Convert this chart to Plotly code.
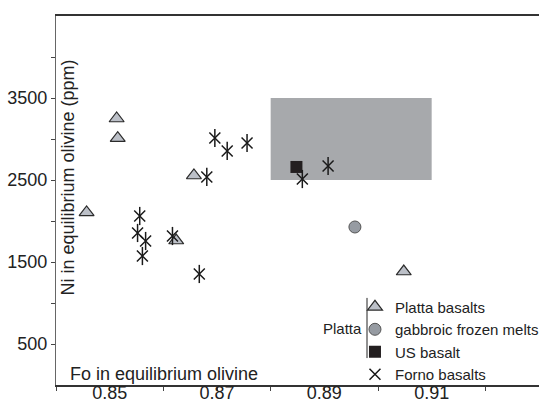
import plotly.graph_objects as go

# Fo / Ni values for each group
platta_fo = [0.8513, 0.8515, 0.8657, 0.8457, 0.8624, 0.9048]
platta_ni = [3250, 3010, 2555, 2104, 1762, 1384]

gabbro_fo = [0.8957]
gabbro_ni = [1927]

us_fo = [0.8848]
us_ni = [2659]

forno_fo = [0.8556, 0.8552, 0.8567, 0.8561, 0.8617, 0.8667,
            0.8696, 0.8719, 0.8756, 0.8681, 0.8859, 0.8907]
forno_ni = [2061, 1854, 1756, 1573, 1817, 1354,
            3012, 2854, 2951, 2537, 2512, 2671]

# equilibrium field (shaded box)
box_fo = [0.88, 0.91]
box_ni = [2500, 3500]

x_major = [0.85, 0.87, 0.89, 0.91]
x_minor = [0.84, 0.86, 0.88, 0.90, 0.92]
y_major = [500, 1500, 2500, 3500]
y_minor = [1000, 2000, 3000, 4000]

FONT = "Liberation Sans, Arial, Helvetica, sans-serif"
EDGE = "#2b2b2b"
STAR = "#1a1a1a"

fig = go.Figure()

fig.add_shape(type="rect", xref="x", yref="y",
              x0=box_fo[0], x1=box_fo[1], y0=box_ni[0], y1=box_ni[1],
              fillcolor="#a7a9ac", line=dict(width=0), layer="below")

fig.add_trace(go.Scatter(
    x=platta_fo, y=platta_ni, mode="markers", name="Platta basalts",
    marker=dict(symbol="triangle-up", size=13, color="#bcc0c8",
                line=dict(color=EDGE, width=1.2))))
fig.add_trace(go.Scatter(
    x=gabbro_fo, y=gabbro_ni, mode="markers", name="gabbroic frozen melts",
    marker=dict(symbol="circle", size=12, color="#969ba2",
                line=dict(color="#555", width=1))))
fig.add_trace(go.Scatter(
    x=us_fo, y=us_ni, mode="markers", name="US basalt",
    marker=dict(symbol="square", size=12, color="#231f20",
                line=dict(color="#231f20", width=0))))
fig.add_trace(go.Scatter(
    x=forno_fo, y=forno_ni, mode="markers", name="Forno basalts",
    marker=dict(symbol="x-thin-open", size=11, color=STAR,
                line=dict(color=STAR, width=1.5))))
# vertical stroke completing the asterisk symbol
fig.add_trace(go.Scatter(
    x=forno_fo, y=forno_ni, mode="markers", showlegend=False,
    hoverinfo="skip",
    marker=dict(symbol="line-ns-open", size=13, color=STAR,
                line=dict(color=STAR, width=1.5))))

# axis titles sit inside the frame
fig.add_annotation(text="Ni in equilibrium olivine (ppm)", xref="paper", yref="paper",
                   x=0.024, y=0.561, textangle=-90, showarrow=False,
                   xanchor="center", yanchor="middle",
                   font=dict(size=18, color="#222", family=FONT))
fig.add_annotation(text="Fo in equilibrium olivine", xref="paper", yref="paper",
                   x=0.024, y=0.03, showarrow=False, xanchor="left", yanchor="middle",
                   font=dict(size=18, color="#222", family=FONT))

# legend group label and bracket
fig.add_annotation(text="Platta", xref="paper", yref="paper",
                   x=0.637, y=0.154, showarrow=False, xanchor="right", yanchor="middle",
                   font=dict(size=15, color="#222", family=FONT))
fig.add_shape(type="line", xref="paper", yref="paper",
              x0=0.6439, x1=0.6439, y0=0.073, y1=0.236,
              line=dict(color="#222", width=1))

fig.update_layout(
    width=539, height=401,
    margin=dict(l=56, r=0, t=16, b=16, autoexpand=False),
    paper_bgcolor="white", plot_bgcolor="white",
    font=dict(family=FONT, size=18, color="#222"),
    showlegend=True,
    legend=dict(x=0.619, y=0.256, xanchor="left", yanchor="top",
                bgcolor="rgba(0,0,0,0)", font=dict(size=15, family=FONT, color="#222"),
                tracegroupgap=0, itemwidth=30),
    xaxis=dict(range=[0.84, 0.93], showgrid=False, zeroline=False, automargin=False,
               showline=True, linecolor="#333", linewidth=1.8, mirror=True,
               tickmode="array", tickvals=x_major, ticktext=[f"{v:.2f}" for v in x_major],
               ticks="outside", ticklen=4, tickcolor="#444", ticklabelstandoff=-14,
               minor=dict(tickvals=x_minor, ticks="outside", ticklen=4, tickcolor="#444"),
               tickfont=dict(size=18, family=FONT, color="#222")),
    yaxis=dict(range=[0, 4500], showgrid=False, zeroline=False, automargin=False,
               showline=True, linecolor="#666", linewidth=1.2,
               tickmode="array", tickvals=y_major, ticktext=[str(v) for v in y_major],
               ticks="outside", ticklen=4, tickcolor="#444",
               minor=dict(tickvals=y_minor, ticks="outside", ticklen=4, tickcolor="#444"),
               tickfont=dict(size=18, family=FONT, color="#222")),
)

fig.write_html("out.html")
